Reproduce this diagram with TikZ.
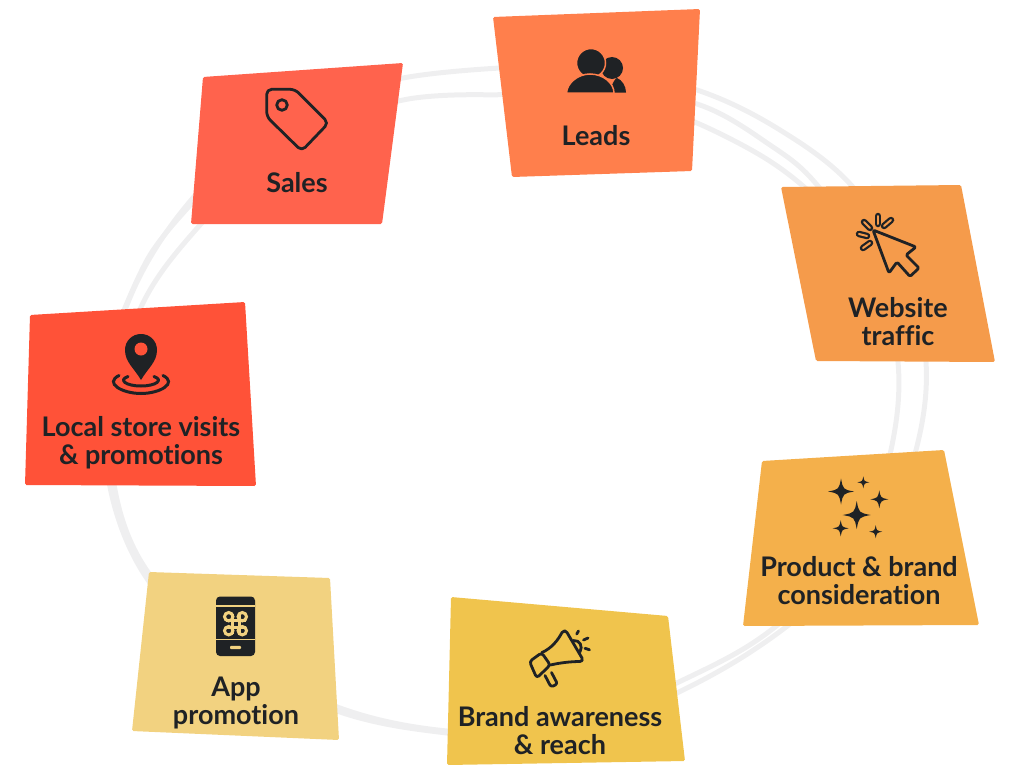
\documentclass[tikz,border=0pt]{standalone}
\usepackage{fontspec}
\setmainfont{Lato}[BoldFont={Lato Bold},RawFeature={-liga}]
\definecolor{inkdark}{HTML}{1F2225}
\definecolor{ringgrey}{HTML}{EFEFF0}
\definecolor{cLeads}{HTML}{FF7F4C}
\definecolor{cSales}{HTML}{FF634D}
\definecolor{cWeb}{HTML}{F59B4B}
\definecolor{cProduct}{HTML}{F4B04B}
\definecolor{cBrand}{HTML}{F0C44D}
\definecolor{cApp}{HTML}{F2D280}
\definecolor{cLocal}{HTML}{FF5238}
\tikzset{
  ring/.style={draw=ringgrey,line width=5pt,smooth,tension=0.6},
  card/.style={rounded corners=1.5pt},
  caption/.style={text=inkdark,font=\fontsize{27}{28}\selectfont\bfseries,align=center,inner sep=0pt},
  iconline/.style={draw=inkdark,line width=2.8pt,line join=round,line cap=round},
  pics/sparkle/.style={code={
    \fill[inkdark] (0,-1) .. controls (.16,-.16) .. (1,0) .. controls (.16,.16) .. (0,1)
      .. controls (-.16,.16) .. (-1,0) .. controls (-.16,-.16) .. (0,-1) -- cycle;
  }},
}
\begin{document}
\begin{tikzpicture}[x=1pt,y=-1pt]
\useasboundingbox (0,0) rectangle (1024,768);

% hand-drawn loop behind the cards
\draw[ring] plot coordinates {(500,68) (600,70) (697,90) (780,130) (852,186) (905,270) (926,362) (916,450) (880,540) (786,627) (683,690) (560,738) (447,733) (340,712) (230,660) (148,580) (110,487) (112,400) (127,305) (187,205) (290,108) (403,78) (500,68)};
\draw[ring] plot coordinates {(495,95) (600,90) (697,104) (770,145) (818,186) (875,270) (898,362) (891,450) (860,540) (775,627) (683,680) (560,730) (447,731) (340,708) (235,655) (150,575) (115,490) (116,400) (142,305) (200,225) (290,138) (403,100) (495,95)};
\draw[ring] plot coordinates {(650,108) (697,123) (760,155) (803,186) (830,215)};
\draw[ring] plot coordinates {(120,320) (150,255) (192,203) (215,180)};

% cards
\fill[card,cSales] (203,77) -- (403,63) -- (382,224) -- (191,224) -- cycle;
\fill[card,cLeads] (493,17) -- (700,9) -- (692,171) -- (512,177) -- cycle;
\fill[card,cWeb] (781,187) -- (961,185) -- (995,362) -- (816,361) -- cycle;
\fill[card,cProduct] (762,461) -- (944,450) -- (979,625) -- (743,626) -- cycle;
\fill[card,cBrand] (451,597) -- (668,616) -- (685,761) -- (447,765) -- cycle;
\fill[card,cApp] (149,572) -- (330,578) -- (339,740) -- (132,731) -- cycle;
\fill[card,cLocal] (30,315) -- (245,302) -- (256,486) -- (25,485) -- cycle;

% captions
\node[caption] (leads) at (596,136) {Leads};
\node[caption] (sales) at (297,183) {Sales};
\node[caption] (web) at (898,322) {Website\\traffic};
\node[caption] (product) at (859,581) {Product \& brand\\consideration};
\node[caption] (brand) at (560,731) {Brand awareness\\\& reach};
\node[caption] (app) at (236,703) {App\\promotion};
\node[caption] (local) at (141,443) {Local store visits\\\& promotions};

% people icon
\fill[inkdark] (612,68) circle[radius=11];
\fill[inkdark] (610,92.5) .. controls (612,82) and (616,78) .. (617,78) .. controls (622,80) and (626,86) .. (626,92.5) -- cycle;
\fill[inkdark,draw=cLeads,line width=1.5pt] (591,63) circle[radius=14.5];
\fill[inkdark,draw=cLeads,line width=1.5pt] (566.5,93) .. controls (567,83) and (578,74) .. (590,74) .. controls (603,74) and (614,83) .. (614,93) -- cycle;

% price tag icon
\draw[iconline,rounded corners=5pt] (266.7,89.3) -- (295,89.3) -- (328.5,123) -- (301.7,151) -- (266.7,116.7) -- cycle;
\draw[iconline] (282,105) circle[radius=5.3];

% cursor icon
\draw[iconline,rounded corners=1.5pt] (873,230) -- (916,247) -- (906,255) -- (919,268) -- (910,276.5) -- (897,262) -- (889,273) -- cycle;
\foreach \ax/\ay/\bx/\by in {864/222/870/228, 878/216/878/224, 884/226/891/220, 859/234/867/236, 863/248/870/243}{
  \draw[inkdark,line width=6.5pt,line cap=round] (\ax,\ay) -- (\bx,\by);
  \draw[cWeb,line width=2pt,line cap=round] (\ax,\ay) -- (\bx,\by);
}

% sparkles icon
\pic[scale=13] at (841,491.5) {sparkle};
\pic[scale=6] at (863.3,482.3) {sparkle};
\pic[scale=9] at (879.3,499.3) {sparkle};
\pic[scale=14] at (856.7,515) {sparkle};
\pic[scale=8] at (840.7,528.3) {sparkle};
\pic[scale=6.5] at (875.7,531.7) {sparkle};

% megaphone icon
\draw[iconline,rounded corners=3pt] (541.7,652.7) -- (550.3,665) -- (536.7,678) -- (529.5,661.5) -- cycle;
\draw[iconline] (541.7,652.7) .. controls (552,648) and (558,640) .. (562,632.5) .. controls (563.5,630) and (566,630.5) .. (567,632.5) -- (582,658) .. controls (583,660) and (582,661.5) .. (580,661.5) .. controls (570,661.5) and (559,663) .. (550.3,665);
\draw[iconline,rounded corners=2.5pt] (545,675.5) -- (551,687) -- (557.5,684) -- (551.5,672.5);
\draw[iconline] (573.3,640.5) .. controls (580,640) and (583,646) .. (580,652);
\draw[iconline] (576.7,634) -- (578.5,631);
\draw[iconline] (583.5,640) -- (588,638);
\draw[iconline] (585,648.3) -- (589.5,649.8);

% phone icon
\fill[inkdark,rounded corners=4pt] (216,596.5) rectangle (255,656);
\fill[cApp] (216,605) rectangle (255,606.5);
\fill[cApp] (216,638.5) rectangle (255,640);
\fill[cApp,rounded corners=1pt] (230,645.8) rectangle (241,649);
\begin{scope}[draw=cApp,line width=3pt]
  \draw (228.7,616.7) circle[radius=4.2];
  \draw (242.3,616.7) circle[radius=4.2];
  \draw (228.7,630.7) circle[radius=4.2];
  \draw (242.3,630.7) circle[radius=4.2];
  \draw (232,613.5) -- (232,633.5);
  \draw (239,613.5) -- (239,633.5);
  \draw (225.5,620) -- (245.5,620);
  \draw (225.5,627.3) -- (245.5,627.3);
\end{scope}

% location pin icon
\draw[inkdark,line width=3pt,line cap=round] (119,375.5) .. controls (104,383) and (122,393.5) .. (141,393.5) .. controls (160,393.5) and (178,383) .. (163,375.5);
\draw[inkdark,line width=3pt,line cap=round] (128,376.5) .. controls (118,380) and (126,386) .. (141,386) .. controls (156,386) and (164,380) .. (154,376.5);
\fill[inkdark] (141,380) .. controls (134,368) and (125,362) .. (125,350) .. controls (125,341) and (132,334) .. (141,334) .. controls (150,334) and (157,341) .. (157,350) .. controls (157,362) and (148,368) .. (141,380) -- cycle;
\fill[cLocal] (141,349) circle[radius=6.5];
\end{tikzpicture}
\end{document}
